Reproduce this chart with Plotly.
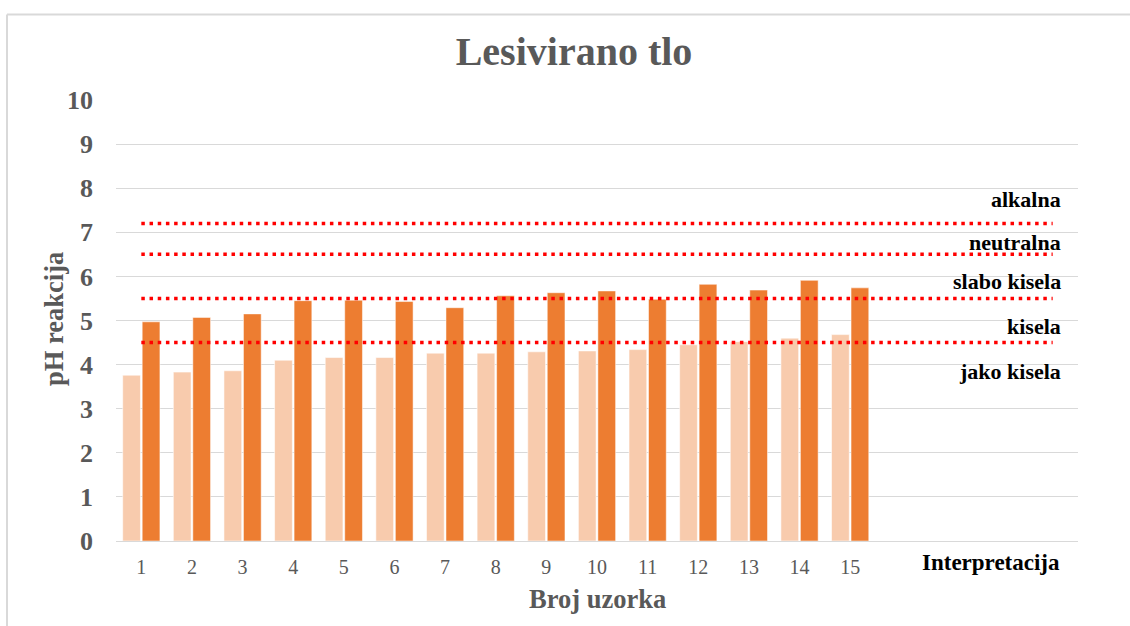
import plotly.graph_objects as go

# ---- data ----
samples = list(range(1, 16))
sample_labels = [str(s) for s in samples]
series_a = [3.76, 3.83, 3.86, 4.10, 4.16, 4.16, 4.26, 4.26, 4.29, 4.31, 4.34, 4.45, 4.52, 4.60, 4.68]
series_b = [4.97, 5.07, 5.15, 5.45, 5.46, 5.43, 5.29, 5.56, 5.63, 5.67, 5.48, 5.82, 5.69, 5.91, 5.74]
thresholds = [7.2, 6.5, 5.5, 4.5]
threshold_span = [1, 19]
class_names = ["alkalna", "neutralna", "slabo kisela", "kisela", "jako kisela"]
class_label_y = [7.75, 6.76, 5.88, 4.86, 3.84]
y_ticks = list(range(0, 11))

W, H = 1130, 626
L, R, T, B = 116, 1078, 100, 541

def px(x):
    return (x - L) / (R - L)

def py(y):
    return (B - y) / (B - T)

SERIF = "Liberation Serif, Times New Roman, serif"
GREY = "#595959"

fig = go.Figure()
fig.add_trace(go.Bar(x=samples, y=series_a, marker=dict(color="#F8CBAD", line=dict(color="rgba(255,255,255,0.55)", width=1)), showlegend=False))
fig.add_trace(go.Bar(x=samples, y=series_b, marker=dict(color="#ED7D31", line=dict(color="rgba(255,255,255,0.5)", width=1)), showlegend=False))

for t in thresholds:
    fig.add_trace(go.Scatter(x=threshold_span, y=[t, t], mode="lines",
                             line=dict(color="#FF0000", width=3.5, dash="3.5px,4.7px"),
                             showlegend=False, hoverinfo="skip"))

annotations = []
for name, yv in zip(class_names, class_label_y):
    annotations.append(dict(x=px(1063), xref="paper", y=yv, yref="y", text="<b>" + name + "</b>",
                            showarrow=False, xanchor="right", yanchor="middle",
                            font=dict(family=SERIF, size=22, color="#000000")))
annotations.append(dict(x=px(991), xref="paper", y=py(562), yref="paper", text="<b>Interpretacija</b>",
                        showarrow=False, xanchor="center", yanchor="middle",
                        font=dict(family=SERIF, size=23, color="#000000")))
annotations.append(dict(x=px(597), xref="paper", y=py(599), yref="paper", text="<b>Broj uzorka</b>",
                        showarrow=False, xanchor="center", yanchor="middle",
                        font=dict(family=SERIF, size=26.5, color=GREY)))
annotations.append(dict(x=px(54), xref="paper", y=py(319), yref="paper", text="<b>pH reakcija</b>",
                        showarrow=False, textangle=-90, xanchor="center", yanchor="middle",
                        font=dict(family=SERIF, size=26.5, color=GREY)))

shapes = [
    dict(type="line", xref="paper", yref="paper", x0=px(7), x1=px(1140), y0=py(14.5), y1=py(14.5),
         line=dict(color="#D9D9D9", width=2)),
    dict(type="line", xref="paper", yref="paper", x0=px(7), x1=px(7), y0=py(14.5), y1=py(640),
         line=dict(color="#D9D9D9", width=2)),
]

fig.update_layout(
    width=W, height=H,
    margin=dict(l=L, r=W - R, t=T, b=H - B, pad=0),
    paper_bgcolor="white", plot_bgcolor="white",
    barmode="group", bargap=0.23, bargroupgap=0.09,
    title=dict(text="<b>Lesivirano tlo</b>", x=574 / W, xref="container", xanchor="center",
               y=1 - 51 / H, yref="container", yanchor="middle",
               font=dict(family=SERIF, size=40, color=GREY)),
    annotations=annotations,
    shapes=shapes,
    xaxis=dict(range=[0.5, 19.5], tickmode="array", tickvals=samples, ticktext=sample_labels,
               showgrid=False, showline=True, linecolor="#D9D9D9", linewidth=1,
               ticks="", ticklabelstandoff=8,
               tickfont=dict(family=SERIF, size=20, color=GREY), zeroline=False),
    yaxis=dict(range=[0, 10], tickmode="array", tickvals=y_ticks,
               showgrid=True, gridcolor="#D9D9D9", gridwidth=1,
               zeroline=True, zerolinecolor="#D9D9D9", zerolinewidth=1,
               showline=False, ticks="", ticklabelstandoff=22,
               tickfont=dict(family=SERIF, size=26, color=GREY, weight="bold")),
    font=dict(family=SERIF),
)

fig.write_html("out.html", config={"displayModeBar": False},
               post_script="document.body.style.margin='0px';")
